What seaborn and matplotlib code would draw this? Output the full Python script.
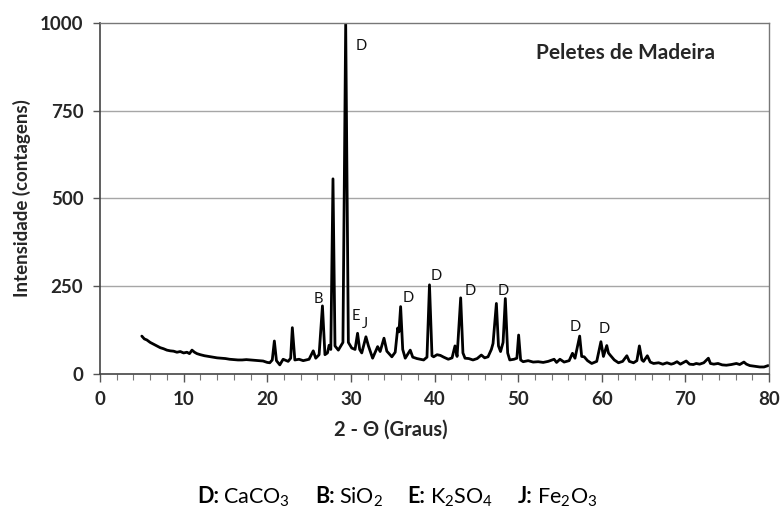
import matplotlib
matplotlib.use("Agg")
import matplotlib.pyplot as plt
from matplotlib.ticker import MultipleLocator
from matplotlib.offsetbox import TextArea, HPacker, AnchoredOffsetbox, DrawingArea
import seaborn as sns
import pandas as pd

two_theta = [5.0, 5.3, 5.6, 6.0, 6.4, 6.8, 7.2, 7.6, 8.0, 8.4, 8.8, 9.2, 9.6, 10.0, 10.4, 10.7,
             11.0, 11.3, 11.6, 12.0, 12.5, 13.0, 13.5, 14.0, 14.5, 15.0, 15.5, 16.0, 16.5, 17.0,
             17.5, 18.0, 18.5, 19.0, 19.5, 20.0, 20.3, 20.6, 20.85, 21.1, 21.5, 21.9, 22.5, 22.8,
             23.0, 23.3, 23.8, 24.3, 25.0, 25.5, 25.8, 26.2, 26.6, 26.9, 27.2, 27.4, 27.6, 27.86,
             28.1, 28.5, 28.8, 29.05, 29.38, 29.7, 30.1, 30.5, 30.8, 31.05, 31.3, 31.8, 32.1, 32.6,
             33.2, 33.5, 33.96, 34.3, 34.9, 35.3, 35.6, 35.75, 35.95, 36.2, 36.5, 37.1, 37.4, 37.9,
             38.3, 38.7, 39.1, 39.4, 39.7, 39.9, 40.3, 40.7, 41.1, 41.65, 42.1, 42.45, 42.7, 43.13,
             43.4, 43.65, 44.1, 44.6, 45.1, 45.6, 46.0, 46.4, 46.8, 47.0, 47.4, 47.65, 47.9, 48.2,
             48.47, 48.75, 49.0, 49.5, 49.85, 50.06, 50.3, 50.6, 51.2, 51.8, 52.4, 53.0, 53.6, 54.3,
             54.6, 55.0, 55.5, 56.1, 56.5, 56.8, 57.36, 57.6, 57.9, 58.3, 58.8, 59.4, 59.9, 60.2,
             60.6, 60.8, 61.0, 61.5, 62.0, 62.5, 63.0, 63.3, 63.8, 64.2, 64.5, 64.8, 65.0, 65.45,
             65.8, 66.2, 66.8, 67.3, 67.8, 68.3, 68.6, 69.0, 69.4, 70.1, 70.5, 70.95, 71.3, 71.7,
             72.2, 72.75, 73.0, 73.4, 73.9, 74.4, 74.9, 75.5, 76.1, 76.5, 77.0, 77.3, 77.7, 78.3,
             78.9, 79.4, 79.9]
counts = [108, 100, 97, 90, 85, 80, 75, 72, 68, 66, 65, 62, 64, 60, 62, 58,
          68, 62, 58, 55, 52, 50, 48, 46, 45, 44, 42, 41, 40, 40,
          41, 40, 39, 38, 37, 33, 32, 40, 94, 38, 26, 42, 36, 45,
          132, 40, 42, 38, 42, 66, 45, 55, 194, 55, 60, 82, 70, 556,
          80, 68, 80, 90, 1000, 90, 74, 70, 116, 70, 60, 106, 80, 45,
          78, 64, 102, 65, 49, 62, 131, 120, 192, 70, 45, 68, 48, 44,
          42, 40, 48, 254, 52, 49, 55, 53, 48, 42, 46, 80, 50, 217,
          60, 45, 44, 40, 44, 54, 46, 49, 70, 87, 201, 80, 64, 90,
          215, 60, 40, 42, 45, 111, 40, 35, 38, 34, 35, 33, 36, 42,
          33, 42, 34, 38, 59, 45, 108, 50, 49, 38, 30, 36, 92, 50,
          81, 60, 54, 40, 32, 36, 52, 36, 32, 38, 80, 40, 36, 52,
          34, 30, 32, 28, 32, 28, 30, 35, 28, 37, 28, 27, 30, 28,
          32, 45, 30, 28, 30, 26, 25, 27, 30, 27, 34, 28, 24, 22,
          20, 20, 24]

peak_labels = ["D", "B", "E", "J", "D", "D", "D", "D", "D", "D"]
peak_label_x = [31.2, 26.1, 30.6, 31.7, 36.9, 40.2, 44.25, 48.2, 56.8, 60.3]
peak_label_y = [935, 213, 165, 142, 216, 279, 237, 237, 133, 127]

title_text = "Peletes de Madeira"
x_label = "2 - \u0398 (Graus)"
y_label = "Intensidade (contagens)"
x_ticks = [0, 10, 20, 30, 40, 50, 60, 70, 80]
y_ticks = [0, 250, 500, 750, 1000]

phase_codes = ["D:", "B:", "E:", "J:"]
phase_names = ["CaCO$_3$", "SiO$_2$", "K$_2$SO$_4$", "Fe$_2$O$_3$"]

sns.set_theme(style="white")
plt.rcParams["font.family"] = ["Lato", "DejaVu Sans"]
plt.rcParams["mathtext.fontset"] = "custom"
plt.rcParams["mathtext.rm"] = "Lato"
plt.rcParams["mathtext.bf"] = "Lato:bold"

df = pd.DataFrame({"two_theta": two_theta, "counts": counts})

fig = plt.figure(figsize=(7.82, 5.13), dpi=100)
ax = fig.add_axes([100 / 782, 1 - 374 / 513, 669 / 782, 351 / 513])

for yv in y_ticks[1:-1]:
    ax.axhline(yv, color="#a6a6a6", lw=1.0, zorder=0)

sns.lineplot(data=df, x="two_theta", y="counts", ax=ax, color="black", lw=2.0,
             sort=False, estimator=None)

ax.set_xlim(0, 80)
ax.set_ylim(0, 1000)
ax.set_xticks(x_ticks)
ax.set_yticks(y_ticks)
ax.xaxis.set_minor_locator(MultipleLocator(2))
ax.tick_params(axis="x", which="major", direction="out", length=6, width=1, color="#555555",
               bottom=True, labelsize=13.5, pad=6)
ax.tick_params(axis="x", which="minor", direction="out", length=4, width=0.8, color="#777777",
               bottom=True)
ax.tick_params(axis="y", which="major", direction="out", length=5, width=1, color="#555555",
               left=True, labelsize=13.5, pad=7)
for lab in ax.get_xticklabels() + ax.get_yticklabels():
    lab.set_fontweight("bold")

for side in ["left", "bottom"]:
    ax.spines[side].set_color("#444444")
    ax.spines[side].set_linewidth(1.2)
for side in ["top", "right"]:
    ax.spines[side].set_color("#777777")
    ax.spines[side].set_linewidth(1.0)

ax.set_xlabel(x_label, fontsize=14.5, fontweight="bold", va="center")
ax.xaxis.set_label_coords((391 - 100) / 669, (374 - 430) / 351)
ax.set_ylabel(y_label, fontsize=13.5, fontweight="bold", va="center")
ax.yaxis.set_label_coords((22 - 100) / 669, 0.5)

for t, xv, yv in zip(peak_labels, peak_label_x, peak_label_y):
    ax.text(xv, yv, t, fontsize=10.5, ha="center", va="center", color="#111111")

ax.text(62.8, 914, title_text, fontsize=15, fontweight="bold", ha="center", va="center")

pieces = []
for i, (code, name) in enumerate(zip(phase_codes, phase_names)):
    pieces.append(TextArea(code, textprops=dict(fontsize=15.5, fontweight="bold", color="black")))
    pieces.append(DrawingArea(3, 1))
    pieces.append(TextArea(name, textprops=dict(fontsize=15.5, color="black")))
    if i < len(phase_codes) - 1:
        pieces.append(DrawingArea(18, 1))
packer = HPacker(children=pieces, align="baseline", pad=0, sep=0)
anchored = AnchoredOffsetbox(loc="center", child=packer, frameon=False,
                             bbox_to_anchor=(397 / 782, 1 - 497 / 513),
                             bbox_transform=fig.transFigure, borderpad=0, pad=0)
fig.add_artist(anchored)

fig.savefig("out.png", dpi=100)
